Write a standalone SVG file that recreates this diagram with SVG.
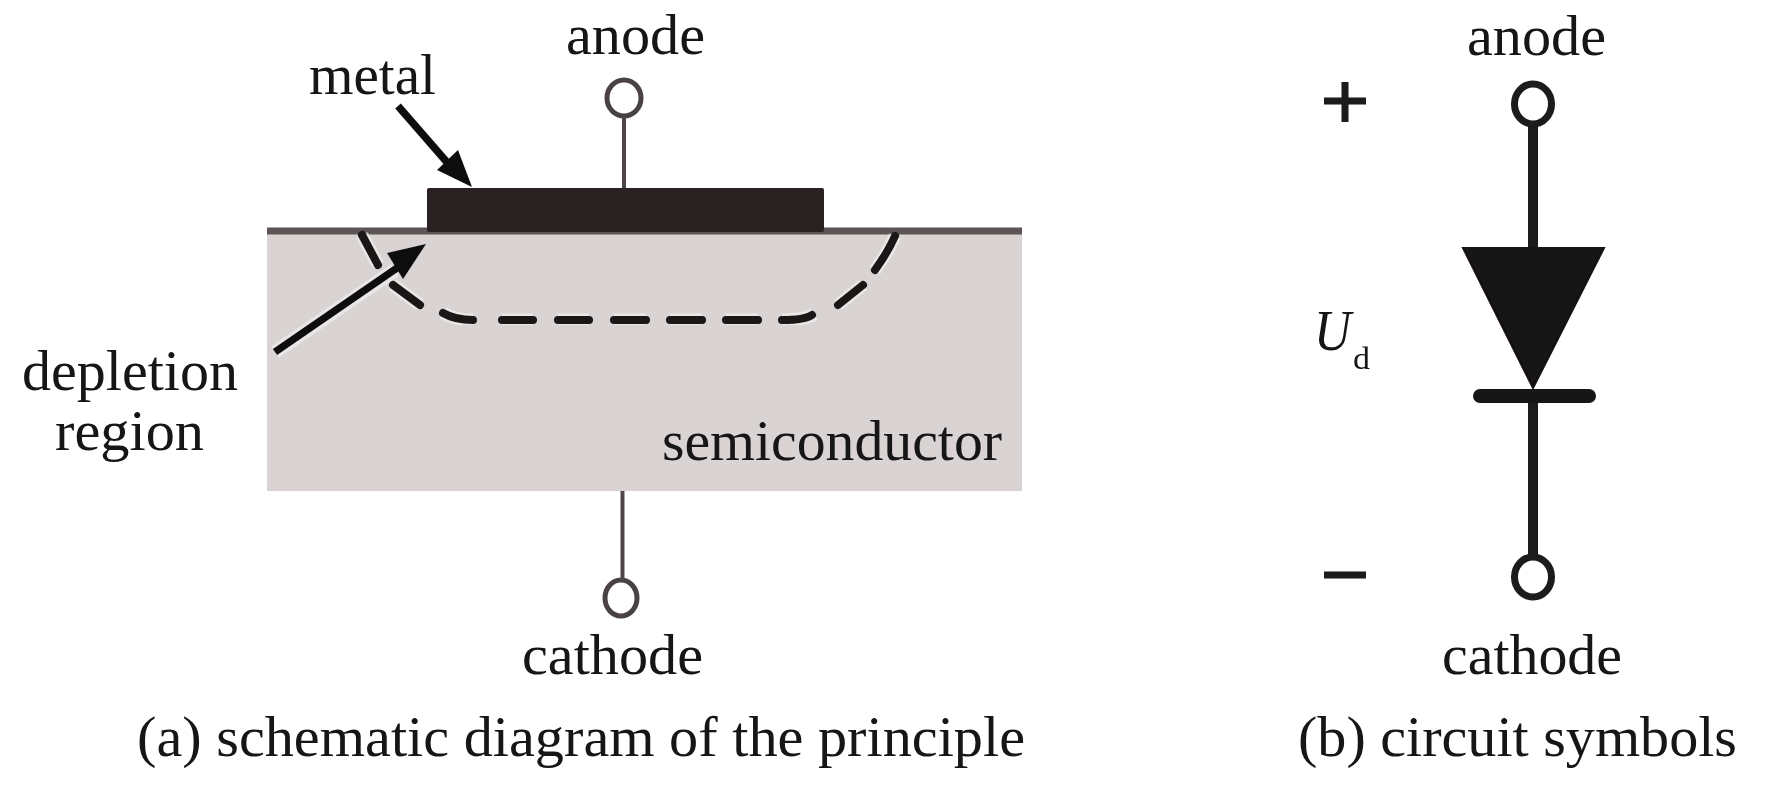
<svg xmlns="http://www.w3.org/2000/svg" width="1765" height="799" viewBox="0 0 1765 799">
<style>
text{font-family:"Liberation Serif","Times New Roman",serif;font-size:56px;fill:#141212}
g{filter:url(#soft)}
.wire{fill:none;stroke:#4f4747;stroke-width:4}
.term{fill:#fff;stroke:#4a4242;stroke-width:5}
.halo{fill:none;stroke:#f6f3f3;stroke-width:13;stroke-linecap:butt}
.dash{fill:none;stroke:#1a1616;stroke-width:8;stroke-linecap:round}
.lead{fill:none;stroke:#1c1a1a;stroke-width:10}
.sym{fill:#fff;stroke:#1c1a1a;stroke-width:7}
.arr{fill:none;stroke:#111;stroke-width:7.5}
.head{fill:#111}
</style>
<defs><filter id="soft" x="-5%" y="-5%" width="110%" height="110%"><feGaussianBlur stdDeviation="0.7"/></filter></defs>
<rect width="1765" height="799" fill="#fff"/>
<g id="semiconductor">
<rect x="267" y="231" width="755" height="260" fill="#d9d3d3"/>
<rect x="267" y="227.500" width="755" height="7" fill="#5d5454"/>
<text x="662" y="460" textLength="340" lengthAdjust="spacingAndGlyphs">semiconductor</text>
</g>
<g id="depletion-boundary">
<path class="halo" d="M362 235L378 265M393 285L420 305M443 313Q455 320 473 320M502 320H533M558 320H589M614 320H646M670 320H702M726 320H758M782 320Q805 320 814 314M838 305L863 285M875 270Q888 252 895 236" opacity=".6"/>
<path class="dash" d="M362 235L378 265M393 285L420 305M443 313Q455 320 473 320M502 320H533M558 320H589M614 320H646M670 320H702M726 320H758M782 320Q805 320 812 315M838 305L863 285M875 270Q888 252 895 236"/>
</g>
<g id="metal">
<rect x="427" y="188" width="397" height="44" rx="2" fill="#2a2322"/>
<text x="309" y="94" textLength="127" lengthAdjust="spacingAndGlyphs">metal</text>
</g>
<g id="anode-a">
<ellipse class="term" cx="624" cy="98" rx="17" ry="18"/>
<text x="566" y="54" textLength="139" lengthAdjust="spacingAndGlyphs">anode</text>
</g>
<g id="cathode-a">
<ellipse class="term" cx="621" cy="598" rx="16" ry="18"/>
<text x="522" y="674" textLength="181" lengthAdjust="spacingAndGlyphs">cathode</text>
</g>
<g id="depletion-label">
<text x="22" y="390" textLength="216" lengthAdjust="spacingAndGlyphs">depletion</text>
<text x="55" y="450" textLength="149" lengthAdjust="spacingAndGlyphs">region</text>
</g>
<g id="caption-a">
<text x="137" y="756" textLength="888" lengthAdjust="spacingAndGlyphs">(a) schematic diagram of the principle</text>
</g>
<g id="connectors">
<path class="wire" d="M624 116V188"/>
<path class="wire" d="M622.500 491V580"/>
<path class="arr" d="M398 106L452 168"/>
<polygon class="head" points="472,187 437,170 458,150"/>
<path d="M275 352L395 270" fill="none" stroke="#f6f3f3" stroke-width="14" opacity=".6"/>
<path class="arr" d="M275 352L397 268"/>
<polygon class="head" points="426,244 387,253 403,279"/>
</g>
<g id="diode">
<path class="lead" d="M1533 120V250"/>
<path class="lead" d="M1533 396V562"/>
<polygon fill="#141212" stroke="#141212" stroke-width="2" points="1463,248 1604,248 1533,388"/>
<path d="M1480 396H1589" fill="none" stroke="#141212" stroke-width="14" stroke-linecap="round"/>
</g>
<g id="anode-b">
<ellipse class="sym" cx="1533" cy="104" rx="18.500" ry="20"/>
<text x="1467" y="55" textLength="139" lengthAdjust="spacingAndGlyphs">anode</text>
</g>
<g id="cathode-b">
<ellipse class="sym" cx="1533" cy="577" rx="18.500" ry="20"/>
<text x="1442" y="674" textLength="180" lengthAdjust="spacingAndGlyphs">cathode</text>
</g>
<g id="polarity">
<path d="M1324 101H1366M1345 82V122" fill="none" stroke="#1c1a1a" stroke-width="7"/>
<path d="M1324 575H1366" fill="none" stroke="#1c1a1a" stroke-width="7"/>
<text x="1314" y="350" font-style="italic" textLength="37" lengthAdjust="spacingAndGlyphs">U</text>
<text x="1353" y="369" style="font-size:32px" textLength="17" lengthAdjust="spacingAndGlyphs">d</text>
</g>
<g id="caption-b">
<text x="1298" y="756" textLength="439" lengthAdjust="spacingAndGlyphs">(b) circuit symbols</text>
</g>
</svg>
